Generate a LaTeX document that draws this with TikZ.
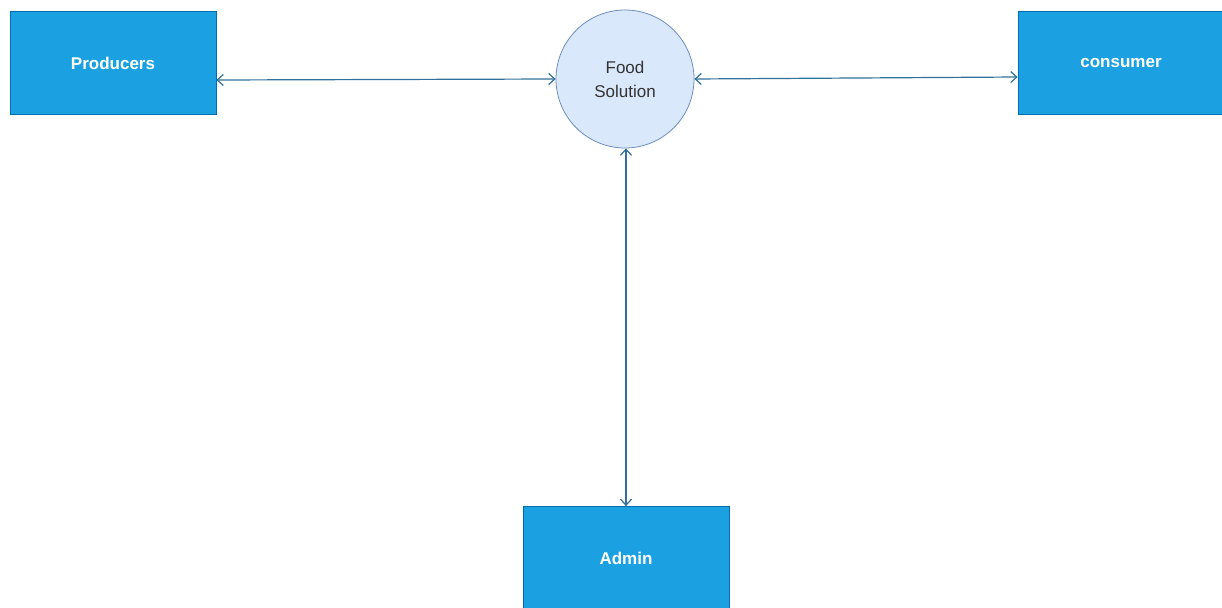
\documentclass[tikz,border=0pt]{standalone}
\usepackage{fontspec}
\setmainfont{Liberation Sans}
\usetikzlibrary{arrows.meta}
\definecolor{boxfill}{HTML}{1BA1E2}
\definecolor{boxline}{HTML}{006EAF}
\definecolor{hubfill}{HTML}{DAE8FC}
\definecolor{hubline}{HTML}{6C8EBF}
\definecolor{linkcol}{HTML}{31709A}
\definecolor{hubtext}{HTML}{333333}
\begin{document}
\begin{tikzpicture}[x=1pt,y=-1pt,
  actor/.style={draw=boxline, fill=boxfill, line width=0.8pt, minimum width=206pt,
    minimum height=103pt, inner sep=0pt, text=white, font=\fontsize{17}{20}\selectfont\bfseries},
  hub/.style={circle, draw=hubline, fill=hubfill, line width=0.8pt, minimum size=138pt,
    inner sep=0pt, text=hubtext, align=center, font=\fontsize{17}{24}\selectfont},
  link/.style={draw=linkcol, line width=1.2pt,
    {Straight Barb[length=6pt,width=11pt]}-{Straight Barb[length=6pt,width=11pt]}}
]
\useasboundingbox (0,0) rectangle (1222,607);
\node[actor] (prod) at (113,63) {Producers};
\node[actor] (cons) at (1121,63) {consumer};
\node[actor] (admin) at (626,558) {Admin};
\node[hub] (food) at (625,79) {Food\\Solution};
\draw[link] (prod.east |- 0,80) -- (food.west);
\draw[link] (food.east) -- (cons.west |- 0,77);
\draw[link] (food.south -| 626,0) -- (admin.north);
\end{tikzpicture}
\end{document}
